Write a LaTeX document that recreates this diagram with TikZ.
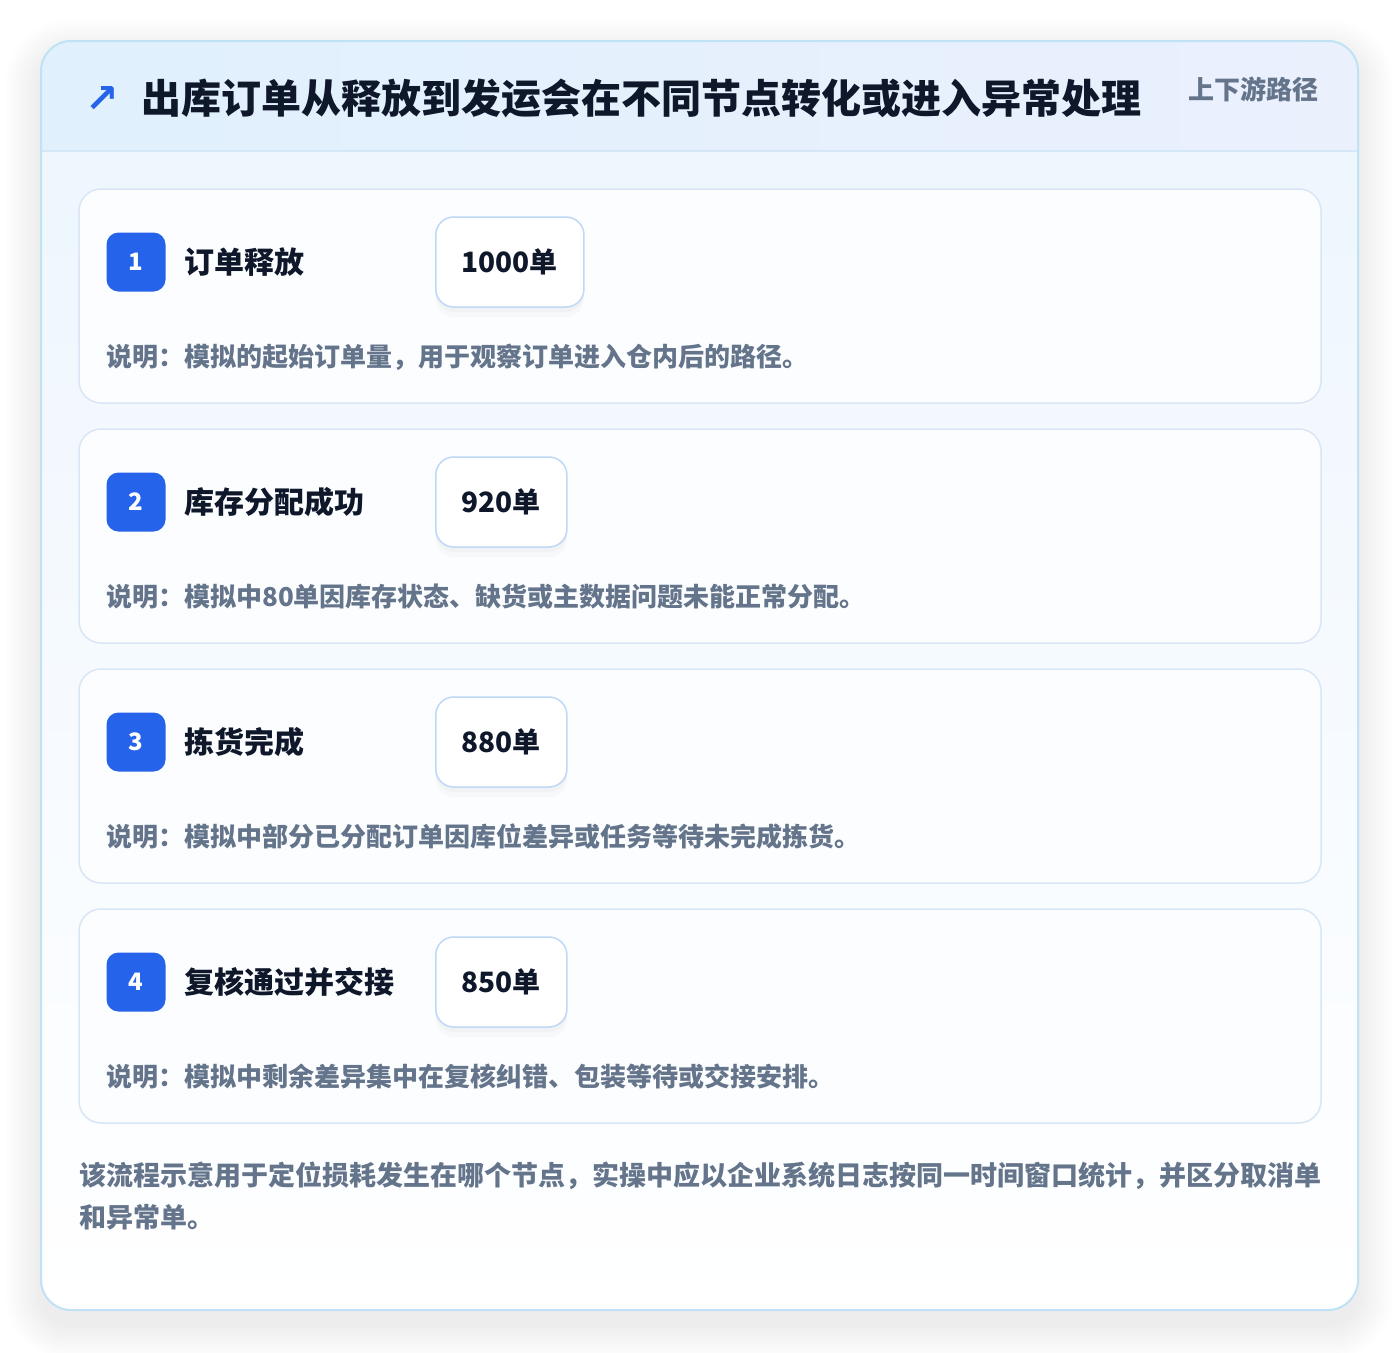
\documentclass[tikz,border=0pt]{standalone}
\usepackage{fontspec}
\setmainfont{Noto Sans CJK SC}
\newfontfamily\symfont{DejaVu Sans}
\usetikzlibrary{positioning}

\definecolor{inkDark}{HTML}{0F172A}
\definecolor{inkMuted}{HTML}{64748B}
\definecolor{badgeBlue}{HTML}{2563EB}
\definecolor{cardLine}{HTML}{D8E6F6}
\definecolor{cardFill}{HTML}{FBFDFF}
\definecolor{valueLine}{HTML}{BFD8F6}
\definecolor{outerLine}{HTML}{BFE2F5}
\definecolor{headLine}{HTML}{D3E7F7}
\definecolor{headLeft}{HTML}{E0F0FD}
\definecolor{headRight}{HTML}{EBF0FD}
\definecolor{bodyTop}{HTML}{EEF6FE}

\tikzset{
	stepCard/.style={draw=cardLine, line width=1.5pt, fill=cardFill, rounded corners=22pt, minimum width=1242pt, minimum height=214pt},
	stepBadge/.style={fill=badgeBlue, rounded corners=12pt, minimum size=59pt, inner sep=0pt, text=white, font=\fontsize{24}{28}\selectfont\bfseries},
	stepTitle/.style={inner sep=0pt, text=inkDark, font=\fontsize{30}{36}\selectfont\bfseries},
	valueBox/.style={draw=valueLine, line width=1.5pt, fill=white, rounded corners=18pt, minimum height=90pt, inner xsep=26pt, text=inkDark, font=\fontsize{28}{34}\selectfont\bfseries,
		preaction={fill=black, opacity=0.025, transform canvas={yshift=-5pt}},
		preaction={fill=black, opacity=0.02, transform canvas={yshift=-10pt}}},
	stepNote/.style={inner sep=0pt, text=inkMuted, font=\fontsize{26}{30}\selectfont\bfseries}
}

\begin{document}
\begin{tikzpicture}[x=1pt, y=-1pt]
	\useasboundingbox[fill=white] (0,0) rectangle (1400,1352);
	% outer card with soft shadow
	\foreach \s in {2,4,...,36}
		\fill[black, opacity=0.0035, rounded corners=30pt+\s] (41-\s,55-\s) rectangle (1358+\s,1324+\s);
	\fill[white, rounded corners=30pt] (41,41) rectangle (1358,1310);
	\begin{scope}
		\clip[rounded corners=30pt] (41,41) rectangle (1358,1310);
		\shade[top color=bodyTop, bottom color=white] (41,151) rectangle (1358,1310);
		\shade[left color=headLeft, right color=headRight] (41,41) rectangle (1358,151);
	\end{scope}
	\draw[headLine, line width=1.5pt] (41,151) -- (1358,151);
	\draw[outerLine, line width=2pt, rounded corners=30pt] (41,41) rectangle (1358,1310);

	% header
	\node[inner sep=0pt, text=badgeBlue, font=\symfont\fontsize{40}{44}\selectfont\bfseries](trendIcon) at (102,99){↗};
	\node[inner sep=0pt, anchor=west, text=inkDark, font=\fontsize{40}{48}\selectfont\bfseries](headTitle) at (141,98){出库订单从释放到发运会在不同节点转化或进入异常处理};
	\node[inner sep=0pt, anchor=west, text=inkMuted, font=\fontsize{26}{30}\selectfont\bfseries](pathTag) at (1188,89){上下游路径};

	% step 1
	\node[stepCard](cardOne) at (700,296){};
	\node[stepBadge](badgeOne) at (136,262){1};
	\node[stepTitle, right=19pt of badgeOne](titleOne){订单释放};
	\node[valueBox, anchor=west](valueOne) at (435,262){1000单};
	\node[stepNote, anchor=west](noteOne) at (106,357){说明：模拟的起始订单量，用于观察订单进入仓内后的路径。};

	% step 2
	\node[stepCard](cardTwo) at (700,536){};
	\node[stepBadge](badgeTwo) at (136,502){2};
	\node[stepTitle, right=19pt of badgeTwo](titleTwo){库存分配成功};
	\node[valueBox, anchor=west](valueTwo) at (435,502){920单};
	\node[stepNote, anchor=west](noteTwo) at (106,597){说明：模拟中80单因库存状态、缺货或主数据问题未能正常分配。};

	% step 3
	\node[stepCard](cardThree) at (700,776){};
	\node[stepBadge](badgeThree) at (136,742){3};
	\node[stepTitle, right=19pt of badgeThree](titleThree){拣货完成};
	\node[valueBox, anchor=west](valueThree) at (435,742){880单};
	\node[stepNote, anchor=west](noteThree) at (106,837){说明：模拟中部分已分配订单因库位差异或任务等待未完成拣货。};

	% step 4
	\node[stepCard](cardFour) at (700,1016){};
	\node[stepBadge](badgeFour) at (136,982){4};
	\node[stepTitle, right=19pt of badgeFour](titleFour){复核通过并交接};
	\node[valueBox, anchor=west](valueFour) at (435,982){850单};
	\node[stepNote, anchor=west](noteFour) at (106,1077){说明：模拟中剩余差异集中在复核纠错、包装等待或交接安排。};

	% footer
	\node[inner sep=0pt, anchor=west, align=left, text=inkMuted, font=\fontsize{27}{42}\selectfont\bfseries](footNote) at (79,1196){该流程示意用于定位损耗发生在哪个节点，实操中应以企业系统日志按同一时间窗口统计，并区分取消单\\和异常单。};
\end{tikzpicture}
\end{document}
